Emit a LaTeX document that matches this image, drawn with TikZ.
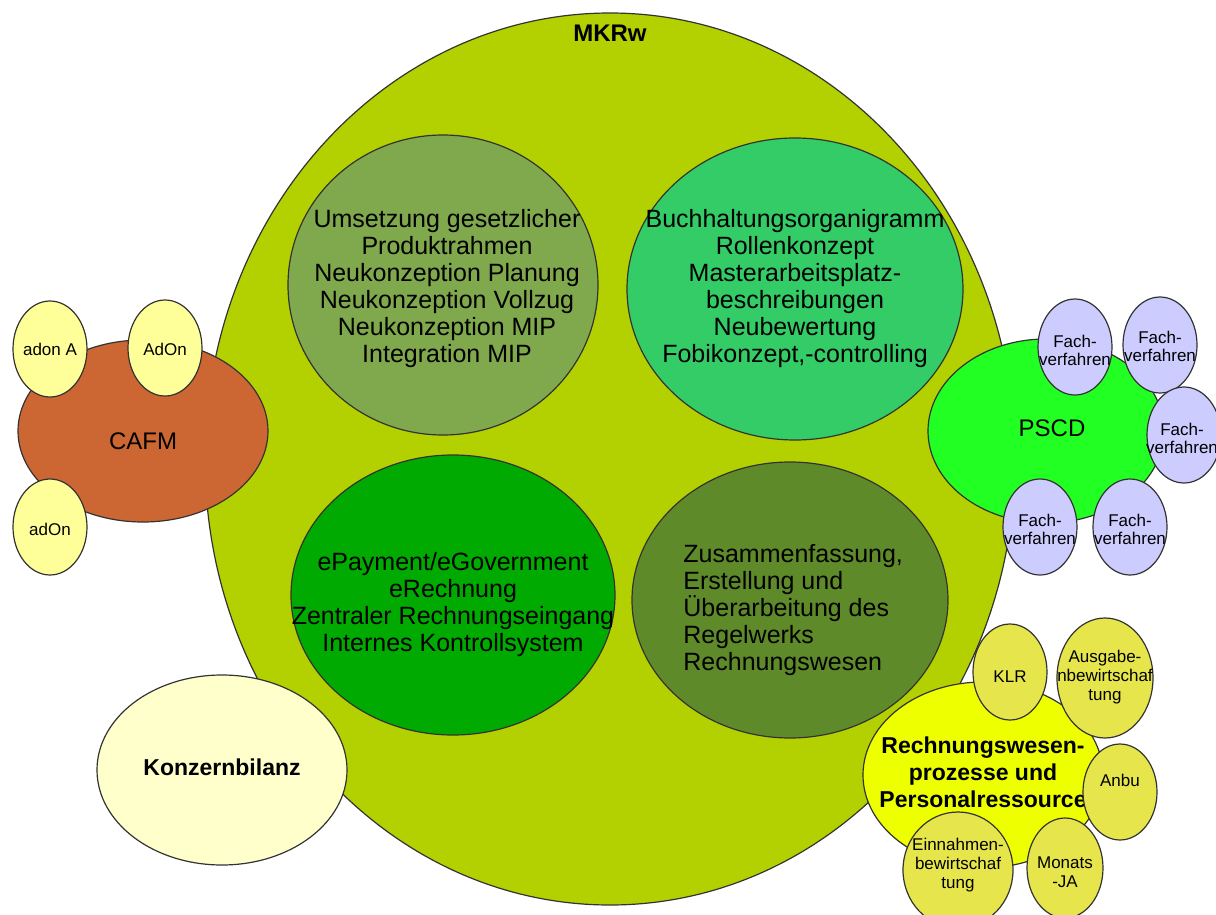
\documentclass[tikz,border=0pt]{standalone}
\usepackage{fontspec}
\setmainfont{Liberation Sans}
\usetikzlibrary{shapes.geometric}
\definecolor{mkrw}{HTML}{B3D100}
\definecolor{tlc}{HTML}{80A84C}
\definecolor{trc}{HTML}{33CC66}
\definecolor{blc}{HTML}{00AA00}
\definecolor{brc}{HTML}{5F8A2A}
\definecolor{cafm}{HTML}{CC6633}
\definecolor{adon}{HTML}{FFFF99}
\definecolor{konz}{HTML}{FFFFCC}
\definecolor{pscd}{HTML}{22FF22}
\definecolor{fach}{HTML}{CCCCFF}
\definecolor{rw}{HTML}{EEFF00}
\definecolor{rws}{HTML}{E6E64C}
\begin{document}
\begin{tikzpicture}[x=0.5pt,y=-0.5pt,
  blob/.style={ellipse, draw=black!80, line width=0.6pt, inner sep=0pt},
  sblob/.style={blob, minimum width=37pt, minimum height=48pt},
  txt/.style={align=center, font=\fontsize{12.5}{13.5}\selectfont, inner sep=0pt},
  btxt/.style={align=center, font=\bfseries\fontsize{11.5}{13.5}\selectfont, inner sep=0pt},
  mtxt/.style={align=center, font=\fontsize{12}{13.5}\selectfont, inner sep=0pt},
  stxt/.style={align=center, font=\fontsize{8.5}{9}\selectfont, inner sep=0pt},
  s2txt/.style={align=center, font=\fontsize{8.5}{9.5}\selectfont, inner sep=0pt}]
\useasboundingbox (0,0) rectangle (1216,915);
% main
\node[blob, fill=mkrw, minimum width=405pt, minimum height=446pt] (mkrw) at (610,459) {};
\node[font=\bfseries\fontsize{12}{12}\selectfont, inner sep=0pt] (title) at (610,33) {MKRw};
% inner four
\node[blob, fill=tlc, minimum width=155pt, minimum height=150pt] (tl) at (443,285) {};
\node[blob, fill=trc, minimum width=168pt, minimum height=151pt] (tr) at (795,289) {};
\node[blob, fill=blc, minimum width=162pt, minimum height=140pt] (bl) at (453,595) {};
\node[blob, fill=brc, minimum width=158pt, minimum height=138pt] (br) at (790,600) {};
\node[txt] (tlT) at (447,289) {Umsetzung gesetzlicher\\Produktrahmen\\Neukonzeption Planung\\Neukonzeption Vollzug\\Neukonzeption MIP\\Integration MIP};
\node[txt] (trT) at (795,289) {Buchhaltungsorganigramm\\Rollenkonzept\\Masterarbeitsplatz-\\beschreibungen\\Neubewertung\\Fobikonzept,-controlling};
\node[txt] (blT) at (453,605) {ePayment/eGovernment\\eRechnung\\Zentraler Rechnungseingang\\Internes Kontrollsystem};
\node[txt, align=left, anchor=west] (brT) at (683,610) {Zusammenfassung,\\Erstellung und\\Überarbeitung des\\Regelwerks\\Rechnungswesen};
% CAFM
\node[blob, fill=cafm, minimum width=125pt, minimum height=91pt] (cafm) at (143,431) {};
\node[mtxt] (cafmT) at (143,441) {CAFM};
\node[sblob, fill=adon] (a1) at (50,349) {};
\node[stxt] (a1T) at (50,349) {adon A};
\node[sblob, fill=adon] (a2) at (165,348) {};
\node[stxt] (a2T) at (165,349) {AdOn};
\node[sblob, fill=adon] (a3) at (50,527) {};
\node[stxt] (a3T) at (50,529) {adOn};
% Konzernbilanz
\node[blob, fill=konz, minimum width=125pt, minimum height=95pt] (konz) at (222,770) {};
\node[btxt] (konzT) at (222,767) {Konzernbilanz};
% PSCD
\node[blob, fill=pscd, minimum width=118pt, minimum height=92pt] (pscd) at (1046,431) {};
\node[mtxt] (pscdT) at (1052,428) {PSCD};
\node[sblob, fill=fach] (f1) at (1075,347) {};
\node[stxt] (f1T) at (1075,350) {Fach-\\verfahren};
\node[sblob, fill=fach] (f2) at (1160,345) {};
\node[stxt] (f2T) at (1160,346) {Fach-\\verfahren};
\node[sblob, fill=fach] (f3) at (1184,435) {};
\node[stxt] (f3T) at (1182,438) {Fach-\\verfahren};
\node[sblob, fill=fach] (f4) at (1040,527) {};
\node[stxt] (f4T) at (1040,529) {Fach-\\verfahren};
\node[sblob, fill=fach] (f5) at (1130,527) {};
\node[stxt] (f5T) at (1130,529) {Fach-\\verfahren};
% Rechnungswesen
\node[blob, fill=rw, minimum width=120pt, minimum height=93pt] (rwb) at (983,775) {};
\node[btxt] (rwT) at (983,772) {Rechnungswesen-\\prozesse und\\Personalressource};
\node[sblob, fill=rws] (klr) at (1010,672) {};
\node[s2txt] (klrT) at (1010,677) {KLR};
\node[blob, fill=rws, minimum width=48pt, minimum height=60pt] (aus) at (1105,678) {};
\node[s2txt] (ausT) at (1105,677) {Ausgabe-\\nbewirtschaf\\tung};
\node[sblob, fill=rws] (anbu) at (1120,792) {};
\node[s2txt] (anbuT) at (1120,780) {Anbu};
\node[blob, fill=rws, minimum width=55pt, minimum height=58pt] (ein) at (958,870) {};
\node[s2txt] (einT) at (958,865) {Einnahmen-\\bewirtschaf\\tung};
\node[blob, fill=rws, minimum width=38pt, minimum height=50pt] (mon) at (1065,868) {};
\node[s2txt] (monT) at (1065,872) {Monats\\-JA};
\end{tikzpicture}
\end{document}
